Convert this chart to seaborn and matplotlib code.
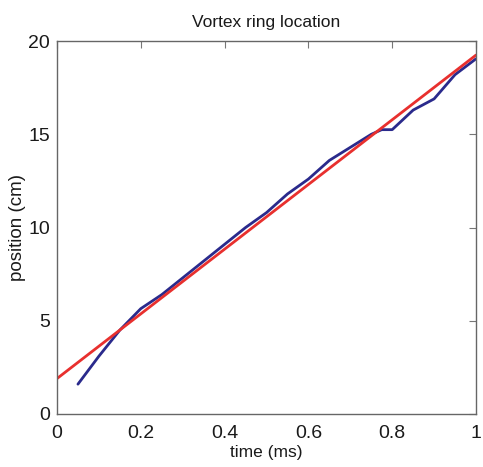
import matplotlib
matplotlib.use("Agg")
import matplotlib.pyplot as plt
import seaborn as sns
import pandas as pd

# Data
time_ms = [0.05, 0.10, 0.15, 0.20, 0.25, 0.30, 0.35, 0.40, 0.45, 0.50, 0.55,
           0.60, 0.65, 0.70, 0.75, 0.775, 0.80, 0.85, 0.90, 0.95, 1.00]
position_cm = [1.6, 3.1, 4.5, 5.65, 6.4, 7.3, 8.2, 9.1, 10.0, 10.8, 11.8,
               12.6, 13.6, 14.3, 15.0, 15.25, 15.25, 16.3, 16.9, 18.2, 19.05]
fit_time = [0.0, 1.0]
fit_position = [1.9, 19.25]

x_ticks = [0, 0.2, 0.4, 0.6, 0.8, 1]
x_tick_labels = ["0", "0.2", "0.4", "0.6", "0.8", "1"]
y_ticks = [0, 5, 10, 15, 20]
y_tick_labels = ["0", "5", "10", "15", "20"]

sns.set_style("white")
plt.rcParams['font.family'] = ['Liberation Sans', 'DejaVu Sans']

fig = plt.figure(figsize=(4.83, 4.67), dpi=100)
ax = fig.add_axes([0.118, 0.1135, 0.8675, 0.7985])

df_meas = pd.DataFrame({"t": time_ms, "p": position_cm})
df_fit = pd.DataFrame({"t": fit_time, "p": fit_position})

sns.lineplot(data=df_meas, x="t", y="p", ax=ax, color="#2a2a8c", linewidth=2.0)
sns.lineplot(data=df_fit, x="t", y="p", ax=ax, color="#e8302e", linewidth=2.0)

ax.set_xlim(0, 1)
ax.set_ylim(0, 20)
ax.set_xticks(x_ticks)
ax.set_xticklabels(x_tick_labels)
ax.set_yticks(y_ticks)
ax.set_yticklabels(y_tick_labels)

ax.tick_params(direction="in", length=5, width=0.8, color="#777777",
               labelsize=14, top=True, right=True, labelcolor="#1a1a1a")
ax.tick_params(axis="x", pad=8)
ax.tick_params(axis="y", pad=5)
for s in ax.spines.values():
    s.set_color("#666666")
    s.set_linewidth(1.0)

ax.set_title("Vortex ring location", fontsize=12.5, pad=10, color="#1a1a1a")
ax.set_xlabel("time (ms)", fontsize=12.5, labelpad=2, color="#1a1a1a")
ax.set_ylabel("position (cm)", fontsize=13.5, labelpad=2, color="#1a1a1a")

fig.savefig("out.png", dpi=100)
